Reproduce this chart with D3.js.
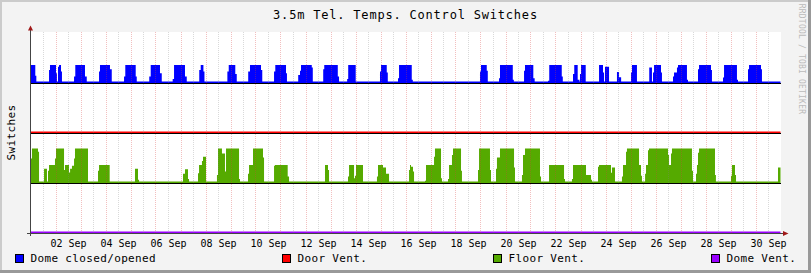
<!DOCTYPE html>
<html>
<head>
<meta charset="utf-8">
<script src="https://cdn.jsdelivr.net/npm/d3@7"></script>
<style>
  body { margin: 0; background: #fff; }
  svg { display: block; font-family: "DejaVu Sans Mono", monospace; }
</style>
</head>
<body>
<svg id="chart"></svg>
<script>
const width = 811;
const height = 273;

const title = "3.5m Tel. Temps. Control Switches";
const yLabel = "Switches";
const watermark = "RRDTOOL / TOBI OETIKER";

const seriesNames = ["Dome closed/opened", "Door Vent.", "Floor Vent.", "Dome Vent."];
const seriesColors = ["#0000ff", "#ff0000", "#55aa00", "#9900ff"];
const seriesLevels = [3, 2, 1, 0];

// step data: [hours since 31 Aug 12:00 UTC, value] - value holds until the next entry
// dome: 0 closed .. 1 open
const domeSteps = [
  [0, 1], [4.6, 0.35], [5.6, 0],
  [17.8, 0.7], [18.7, 1], [24.5, 0.5], [25.4, 0], [26.4, 0.9], [27.4, 1], [29.3, 0.6], [30.2, 0],
  [41.8, 0.3], [43, 1], [52.3, 0.3], [54, 0],
  [65.8, 0.6], [66.7, 1], [76.3, 0.75], [78, 0],
  [89.8, 0.3], [91, 1], [101, 0.3], [102, 0],
  [114, 0.3], [115.4, 1], [124.3, 0.5], [126, 0],
  [136.5, 0.15], [137.8, 1], [148.3, 0.3], [150, 0],
  [162, 0.7], [163.4, 1], [166, 0.6], [167, 0],
  [189, 0.6], [190.3, 1], [196.6, 0.45], [198, 0],
  [209, 0.6], [210.7, 1], [221.3, 0.7], [222.5, 0],
  [233.8, 0.6], [235, 1], [245.3, 0.5], [246.2, 0],
  [257, 0.4], [258.7, 0.65], [259.7, 1], [270, 0.85], [271, 0],
  [281, 0.75], [282, 1], [295, 0.3], [296.2, 0],
  [304, 0.15], [305, 1], [312.2, 0],
  [335.5, 0.6], [336.5, 1], [342, 0.55], [343, 0],
  [352.8, 0.2], [353.8, 1], [366, 0.1], [367, 0],
  [431.5, 0.6], [432.5, 1], [438, 0.65], [439, 0],
  [449.8, 0.2], [450.7, 1], [463, 0.1], [464, 0],
  [473.8, 0.65], [474.7, 1], [482.7, 0.2], [484, 0],
  [496.8, 0.05], [498, 1], [510, 0.3], [511, 0],
  [520.8, 0.45], [522, 1], [525.3, 0.1], [527, 0], [527.5, 0.45], [528.5, 1], [533, 0],
  [545.8, 1], [549.6, 0.55], [550.6, 0], [551.5, 0.9], [555.4, 0],
  [563, 0.58], [565, 0.26], [567, 0],
  [576.5, 0.55], [577.4, 1], [582.2, 0],
  [594, 0.85], [596.6, 0], [597.6, 0.55], [598.6, 1], [605.3, 0.55], [606.2, 0],
  [616.8, 0.3], [617.8, 0.55], [620.6, 0.85], [621.6, 1], [630.2, 0.1], [631.2, 0],
  [640.8, 0.75], [641.8, 1], [653.3, 0.7], [654.2, 0],
  [664.8, 0.25], [665.8, 1], [678.2, 0.1], [679.2, 0],
  [688.8, 0.75], [689.8, 1], [701.3, 0.75], [702.2, 0]
];

const doorVentSteps = [[0, 0]];

// floor vents: number open (0..2)
const floorVentSteps = [
  [0, 1.4], [1.4, 2], [7.2, 1.8], [8.2, 0],
  [13, 0.78], [15.8, 0], [16.8, 0.65], [17.8, 1], [23.5, 1.4], [24.5, 2], [32.2, 0.7], [33.1, 1],
  [37, 0.55], [38, 0.78], [39.8, 0.95], [41.8, 1.4], [42.7, 2], [55.2, 0],
  [64.8, 0.65], [65.8, 1], [76, 0],
  [100.3, 0.78], [103.2, 0.1], [104.2, 0],
  [146.4, 0.47], [148.3, 0.75], [151.2, 0.15], [152.2, 0],
  [160.8, 0.5], [161.8, 1], [164.6, 1.25], [165.6, 1.5], [168.5, 0],
  [179, 0.4], [180, 2], [183.8, 1.7], [186.7, 0.6], [187.7, 2], [200.2, 0.15], [201.1, 0],
  [208.8, 0.47], [209.8, 1], [213.6, 2], [223.2, 1.45], [224.2, 0],
  [233.8, 0.95], [234.7, 1], [246.9, 0.3], [248.2, 0],
  [282.7, 1], [285.6, 0.7], [286.6, 0],
  [304.8, 0.3], [305.8, 1], [310.6, 0.2], [311.5, 0.35], [312.5, 1], [319.2, 0],
  [332.6, 0.3], [333.6, 1], [338.4, 0.85], [341.3, 0.47], [344.2, 0],
  [363.4, 0.7], [364.3, 1], [365.3, 0.9], [367.2, 0.6], [368.2, 0],
  [378.7, 0.05], [379.7, 1], [387.4, 1.5], [388.3, 2], [394.1, 0.2], [395, 0],
  [400.8, 0.15], [401.8, 1], [404.6, 1.6], [405.6, 2], [413.3, 0.65], [414.2, 0],
  [429.6, 0.7], [430.6, 2], [441.1, 0.7], [442.1, 0],
  [446.9, 0.78], [447.8, 1.45], [450.7, 2], [464.2, 0.85], [465.1, 0],
  [471.8, 0.4], [472.8, 1.6], [474.7, 2], [489.1, 0.3], [490.1, 0],
  [497.8, 1], [512.2, 0.15], [513.1, 0],
  [519.8, 0.15], [520.8, 1], [533.3, 0.4], [538.1, 0.1], [539, 0],
  [544.8, 0.9], [545.8, 1], [557.3, 0.53], [558.2, 0.85], [561.1, 0],
  [567.8, 0.3], [568.8, 1], [571.7, 1.8], [572.6, 2], [584.2, 1], [586.1, 0.35], [587, 0],
  [590, 0.47], [590.9, 1], [592.8, 1.9], [593.8, 2], [612, 1.6], [613, 1], [614.9, 1.7], [615.8, 2],
  [635, 0.65], [636, 0],
  [638.9, 0.47], [639.8, 1], [640.8, 1.75], [641.8, 2], [657.1, 0.4], [658, 0],
  [672.5, 0.35], [673.4, 1], [676.3, 0.4], [677.3, 0],
  [717.6, 0.85]
];

const domeVentSteps = [[0, 0]];

// x labels (days of September)
const tickDays = [2, 4, 6, 8, 10, 12, 14, 16, 18, 20, 22, 24, 26, 28, 30];

const allSteps = [domeSteps, doorVentSteps, floorVentSteps, domeVentSteps];

const t0 = Date.UTC(2015, 7, 31, 12);
const hourMs = 3600 * 1000;
const spanHours = 720;

// each trace sits on its own level: small base band + 0.33 per unit
const baseBand = 0.03;
const unitHeight = 0.33;

const svg = d3.select("#chart").attr("width", width).attr("height", height);

const xScale = d3.scaleTime()
  .domain([new Date(t0), new Date(t0 + spanHours * hourMs)])
  .range([30.5, 780.5]);

const yScale = d3.scaleLinear()
  .domain([0, 4])
  .range([233, 33]);

// background + borders
svg.append("rect").attr("width", width).attr("height", height).attr("fill", "#f3f3f3");
svg.append("rect").attr("x", 0).attr("y", 0).attr("width", width).attr("height", 2).attr("fill", "#cbcbcb");
svg.append("rect").attr("x", 0).attr("y", 0).attr("width", 2).attr("height", height).attr("fill", "#cbcbcb");
svg.append("rect").attr("x", width - 3).attr("y", 0).attr("width", 3).attr("height", height).attr("fill", "#999");
svg.append("rect").attr("x", 0).attr("y", height - 3).attr("width", width).attr("height", 3).attr("fill", "#999");

// canvas
svg.append("rect")
  .attr("x", 30.5).attr("y", 32)
  .attr("width", 750.5).attr("height", 201)
  .attr("fill", "#fff");

// areas
const toDate = (h) => new Date(t0 + h * hourMs);

allSteps.forEach((steps, i) => {
  const level = seriesLevels[i];
  const pts = steps.concat([[spanHours, steps[steps.length - 1][1]]]);
  const area = d3.area()
    .curve(d3.curveStepAfter)
    .x((d) => xScale(toDate(d[0])))
    .y0(yScale(level))
    .y1((d) => yScale(level + baseBand + unitHeight * d[1]));
  svg.append("path").datum(pts).attr("d", area).attr("fill", seriesColors[i]);
});

// black baseline for each level
[3, 2, 1].forEach((lv) => {
  svg.append("line")
    .attr("x1", 30.5).attr("x2", 781)
    .attr("y1", yScale(lv) + 0.5).attr("y2", yScale(lv) + 0.5)
    .attr("stroke", "#000").attr("stroke-width", 1);
});

// vertical grid (drawn over the data like rrdtool)
const gridTimes = xScale.ticks(d3.utcHour.every(12))
  .filter((d) => d > xScale.domain()[0] && d < xScale.domain()[1]);

svg.append("g")
  .selectAll("line")
  .data(gridTimes)
  .enter()
  .append("line")
  .attr("x1", (d) => Math.round(xScale(d)) + 0.5)
  .attr("x2", (d) => Math.round(xScale(d)) + 0.5)
  .attr("y1", 32)
  .attr("y2", 233)
  .attr("stroke", (d) => (d.getUTCHours() === 12 ? "rgba(215,60,60,0.33)" : "rgba(128,128,128,0.3)"))
  .attr("stroke-dasharray", "1,1");

// axes
const axisColor = "#444";
const arrowColor = "#a01818";

svg.append("line")
  .attr("x1", 30.5).attr("x2", 30.5)
  .attr("y1", 236).attr("y2", 29)
  .attr("stroke", axisColor);
svg.append("line")
  .attr("x1", 27).attr("x2", 30.5)
  .attr("y1", 233.5).attr("y2", 233.5)
  .attr("stroke", axisColor);
svg.append("line")
  .attr("x1", 28).attr("x2", 784)
  .attr("y1", 233.5).attr("y2", 233.5)
  .attr("stroke", axisColor);

svg.append("path")
  .attr("d", "M28,30.5 L33,30.5 L30.5,25.5 Z")
  .attr("fill", arrowColor);
svg.append("path")
  .attr("d", "M783,231 L783,236 L788.5,233.5 Z")
  .attr("fill", arrowColor);

// x tick labels
const xAxis = d3.axisBottom(xScale)
  .tickValues(tickDays.map((d) => new Date(Date.UTC(2015, 8, d))))
  .tickFormat(d3.utcFormat("%d %b"))
  .tickSize(0)
  .tickPadding(6.5);

const gx = svg.append("g")
  .attr("transform", "translate(0," + 233 + ")")
  .call(xAxis);
gx.select(".domain").remove();
gx.attr("font-family", "DejaVu Sans Mono, monospace").attr("font-size", 10);
gx.selectAll("text").attr("fill", "#000");

// title
svg.append("text")
  .attr("x", 405.5).attr("y", 19.3)
  .attr("text-anchor", "middle")
  .attr("font-size", 12)
  .attr("letter-spacing", 0.8)
  .attr("fill", "#000")
  .text(title);

// y label
svg.append("text")
  .attr("transform", "translate(15,132.5) rotate(-90)")
  .attr("text-anchor", "middle")
  .attr("font-size", 11)
  .attr("letter-spacing", 0.4)
  .attr("fill", "#000")
  .text(yLabel);

// watermark
svg.append("text")
  .attr("transform", "translate(798.5,59) rotate(90)")
  .attr("text-anchor", "middle")
  .attr("font-size", 8)
  .attr("letter-spacing", 0.2)
  .attr("fill", "#bbb")
  .text(watermark);

// legend
const legendX = [15, 282, 493, 711];

const legend = svg.append("g")
  .selectAll("g")
  .data(seriesNames)
  .enter()
  .append("g")
  .attr("transform", (d, i) => "translate(" + legendX[i] + ",0)");

legend.append("rect")
  .attr("x", 0.5).attr("y", 254.5)
  .attr("width", 8).attr("height", 8)
  .attr("fill", (d, i) => seriesColors[i])
  .attr("stroke", "#000");

legend.append("text")
  .attr("x", 15.5).attr("y", 262)
  .attr("font-size", 11)
  .attr("letter-spacing", 0.35)
  .attr("fill", "#000")
  .text((d) => d);
</script>
</body>
</html>
